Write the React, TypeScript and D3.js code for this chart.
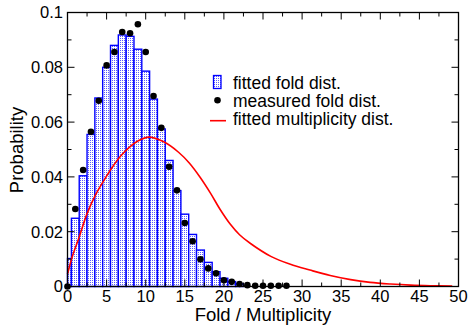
import React from 'react';
import * as d3 from 'd3';

// fitted fold distribution (bar per fold value 0..22)
const foldValues = [0, 1, 2, 3, 4, 5, 6, 7, 8, 9, 10, 11, 12, 13, 14, 15, 16, 17, 18, 19, 20, 21, 22];
const fittedFold = [
  0.0102, 0.0249, 0.0404, 0.0555, 0.0688, 0.08, 0.088, 0.0918, 0.0913, 0.0866, 0.0786, 0.0684,
  0.0575, 0.046, 0.035, 0.0264, 0.019, 0.0133, 0.0088, 0.0054, 0.003, 0.0018, 0.001,
];

// measured fold distribution (dots)
const measuredX = [0, 1, 2, 3, 4, 5, 6, 7, 8, 9, 10, 11, 12, 13, 14, 15, 16, 17, 18, 19, 20, 21, 22, 23, 24, 25, 26, 27, 28];
const measuredY = [
  0, 0.0283, 0.0425, 0.0565, 0.0678, 0.0807, 0.0856, 0.0929, 0.0924, 0.0957, 0.0856, 0.0695,
  0.0579, 0.0437, 0.0351, 0.0232, 0.0165, 0.0099, 0.0066, 0.0048, 0.0023, 0.0017, 0.0009,
  0.0005, 0.0003, 0.0003, 0.0003, 0.0003, 0.0003,
];

// fitted multiplicity distribution
const multX = [
  0, 0.6, 1.5, 2.5, 3.6, 4.7, 5.75, 6.8, 7.9, 9, 10.4, 12.3, 14.2, 15.6, 17, 18.3, 19.5, 20.8,
  22, 23.4, 26, 28.5, 31, 33.6, 36.2, 38.7, 41.3, 43.9, 46.4, 49.2,
];
const multY = [
  0.0045, 0.0108, 0.0181, 0.0266, 0.0335, 0.0389, 0.0436, 0.0476, 0.0508, 0.0531, 0.0545, 0.0528,
  0.049, 0.045, 0.0397, 0.034, 0.0282, 0.0228, 0.0189, 0.0157, 0.011, 0.0081, 0.006, 0.004,
  0.0025, 0.0015, 0.0009, 0.0005, 0.0003, 0.0002,
];

const xTickLabels = ['0', '5', '10', '15', '20', '25', '30', '35', '40', '45', '50'];
const yTickLabels = ['0', '0.02', '0.04', '0.06', '0.08', '0.1'];

const legendItems = ['fitted fold dist.', 'measured fold dist.', 'fitted multiplicity dist.'];

const W = 469;
const H = 328;
const FONT = '"Liberation Sans", Arial, Helvetica, sans-serif';
const BLUE = '#0000ff';

export default function App() {
  const x = d3.scaleLinear().domain([0, 50]).range([67.5, 458.5]);
  const y = d3.scaleLinear().domain([0, 0.1]).range([286.5, 12.5]);

  const curve = d3.line<number>()
    .x((_, i) => x(multX[i]))
    .y((d) => y(d))
    .curve(d3.curveCatmullRom.alpha(0.5));

  const xMinor = d3.range(0, 50.01, 2.5);
  const yMinor = d3.range(0, 0.1001, 0.01);
  const x0 = x(0), x1 = x(50), y0 = y(0), y1 = y(0.1);

  return (
    <svg width={W} height={H} style={{ position: 'absolute', left: 0, top: 0, background: '#fff' }}>
      <defs>
        <pattern id="dotfill" width={2} height={2} patternUnits="userSpaceOnUse">
          <rect width={2} height={2} fill="#fff" />
          <rect width={1} height={1} fill="#5a5aff" />
        </pattern>
      </defs>

      {/* bars */}
      {foldValues.map((k, i) => {
        const a = Math.max(0, k - 0.5);
        const b = k + 0.5;
        return (
          <rect key={k} x={x(a)} y={y(fittedFold[i])} width={x(b) - x(a)} height={y(0) - y(fittedFold[i])}
            fill="url(#dotfill)" stroke={BLUE} strokeWidth={1.4} />
        );
      })}

      {/* multiplicity curve */}
      <path d={curve(multY) || ''} fill="none" stroke="#ff0000" strokeWidth={1.6} />

      {/* frame + ticks */}
      <rect x={x0} y={y1} width={x1 - x0} height={y0 - y1} fill="none" stroke="#000" strokeWidth={1.3} />
      {xMinor.map((v, i) => {
        const len = i % 2 === 0 ? 7 : 4;
        return (
          <g key={'xt' + i} stroke="#000" strokeWidth={1}>
            <line x1={x(v)} x2={x(v)} y1={y0} y2={y0 - len} />
            <line x1={x(v)} x2={x(v)} y1={y1} y2={y1 + len} />
          </g>
        );
      })}
      {yMinor.map((v, i) => {
        const len = i % 2 === 0 ? 7 : 4;
        return (
          <g key={'yt' + i} stroke="#000" strokeWidth={1}>
            <line x1={x0} x2={x0 + len} y1={y(v)} y2={y(v)} />
            <line x1={x1} x2={x1 - len} y1={y(v)} y2={y(v)} />
          </g>
        );
      })}
      {xTickLabels.map((t, i) => (
        <text key={'xl' + t} x={x(i * 5)} y={302} textAnchor="middle" fontFamily={FONT} fontSize={16.5}>{t}</text>
      ))}
      {yTickLabels.map((t, i) => (
        <text key={'yl' + t} x={63} y={y(i * 0.02)} dy="0.36em" textAnchor="end" fontFamily={FONT} fontSize={16.5}>{t}</text>
      ))}

      {/* measured dots */}
      {measuredX.map((k, i) => (
        <circle key={'m' + k} cx={x(k)} cy={y(measuredY[i])} r={3.3} fill="#000" />
      ))}

      {/* axis titles */}
      <text x={(x0 + x1) / 2} y={321} textAnchor="middle" fontFamily={FONT} fontSize={18.5}>Fold / Multiplicity</text>
      <text transform="translate(23,150) rotate(-90)" textAnchor="middle" fontFamily={FONT} fontSize={18.5}>Probability</text>

      {/* legend */}
      <rect x={213.5} y={75.5} width={7.5} height={13} fill="url(#dotfill)" stroke={BLUE} strokeWidth={1.3} />
      <circle cx={217.5} cy={100.3} r={3.3} fill="#000" />
      <line x1={210} x2={226} y1={120.7} y2={120.7} stroke="#ff0000" strokeWidth={1.6} />
      {legendItems.map((t, i) => (
        <text key={t} x={233} y={89.3 + i * 17.8} fontFamily={FONT} fontSize={17.5}>{t}</text>
      ))}
    </svg>
  );
}
